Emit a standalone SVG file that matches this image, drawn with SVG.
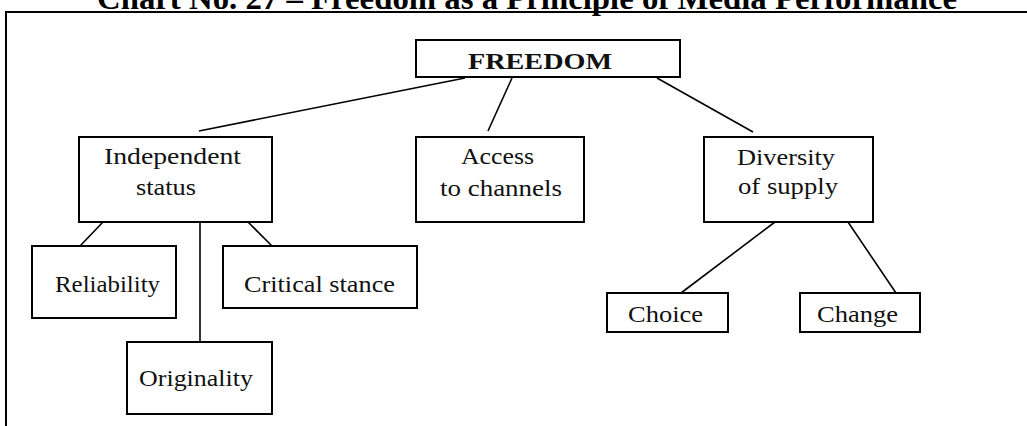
<svg xmlns="http://www.w3.org/2000/svg" width="1027" height="426" viewBox="0 0 1027 426">
  <style>
    .box { fill: #fff; stroke: #000; stroke-width: 2; }
    .link { stroke: #000; stroke-width: 1.6; fill: none; }
    .frame { stroke: #000; stroke-width: 2; fill: none; }
  </style>
  <rect width="1027" height="426" fill="#fff"/>

  <!-- chart heading (runs off the top edge) -->
  <text x="97" y="9" textLength="860" lengthAdjust="spacingAndGlyphs" font-family="'Liberation Serif', 'Times New Roman', serif" font-size="32" font-weight="bold" fill="#000">Chart No. 27 – Freedom as a Principle of Media Performance</text>

  <!-- enclosing frame -->
  <path class="frame" d="M6,426 V12 H1027"/>

  <!-- connectors -->
  <g id="connectors">
    <line class="link" x1="465" y1="78" x2="199" y2="131"/>
    <line class="link" x1="512" y1="78" x2="488" y2="131"/>
    <line class="link" x1="657" y1="78" x2="753" y2="132"/>
    <line class="link" x1="103" y1="222" x2="80" y2="246"/>
    <line class="link" x1="200" y1="222" x2="200" y2="342"/>
    <line class="link" x1="248" y1="222" x2="272" y2="246"/>
    <line class="link" x1="775" y1="222" x2="681" y2="293"/>
    <line class="link" x1="848" y1="222" x2="896" y2="293"/>
  </g>

  <g font-family="'Liberation Serif', 'Times New Roman', serif" font-size="24" fill="#111">
    <g id="freedom">
      <rect class="box" x="416" y="40" width="264" height="37"/>
      <text x="468" y="69" textLength="144" lengthAdjust="spacingAndGlyphs" font-weight="bold">FREEDOM</text>
    </g>

    <g id="independent-status">
      <rect class="box" x="79" y="137" width="193" height="85"/>
      <text x="104" y="164" textLength="137" lengthAdjust="spacingAndGlyphs">Independent</text>
      <text x="136" y="195" textLength="60" lengthAdjust="spacingAndGlyphs">status</text>
    </g>

    <g id="access">
      <rect class="box" x="416" y="137" width="168" height="85"/>
      <text x="461" y="164" textLength="73" lengthAdjust="spacingAndGlyphs">Access</text>
      <text x="440" y="196" textLength="122" lengthAdjust="spacingAndGlyphs">to channels</text>
    </g>

    <g id="diversity">
      <rect class="box" x="704" y="137" width="169" height="85"/>
      <text x="737" y="165" textLength="98" lengthAdjust="spacingAndGlyphs">Diversity</text>
      <text x="738" y="194" textLength="100" lengthAdjust="spacingAndGlyphs">of supply</text>
    </g>

    <g id="reliability">
      <rect class="box" x="32" y="246" width="144" height="72"/>
      <text x="55" y="292" textLength="105" lengthAdjust="spacingAndGlyphs">Reliability</text>
    </g>

    <g id="critical-stance">
      <rect class="box" x="223" y="246" width="194" height="62"/>
      <text x="244" y="292" textLength="151" lengthAdjust="spacingAndGlyphs">Critical stance</text>
    </g>

    <g id="originality">
      <rect class="box" x="127" y="342" width="145" height="72"/>
      <text x="139" y="386" textLength="114" lengthAdjust="spacingAndGlyphs">Originality</text>
    </g>

    <g id="choice">
      <rect class="box" x="607" y="293" width="121" height="39"/>
      <text x="628" y="322" textLength="75" lengthAdjust="spacingAndGlyphs">Choice</text>
    </g>

    <g id="change">
      <rect class="box" x="800" y="293" width="120" height="39"/>
      <text x="817" y="322" textLength="81" lengthAdjust="spacingAndGlyphs">Change</text>
    </g>
  </g>
</svg>
